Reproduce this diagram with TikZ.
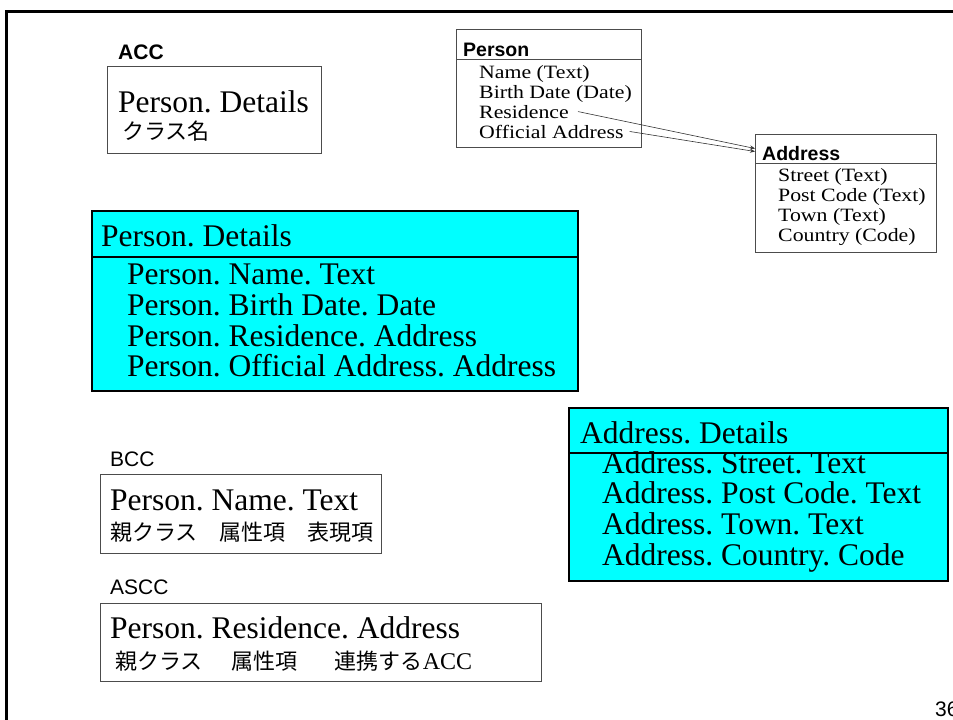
\documentclass[tikz,border=0pt]{standalone}
\usepackage{fontspec}
\setmainfont{Liberation Serif}
\setsansfont{Liberation Sans}
\newfontfamily\jpfont{Noto Sans CJK JP}
\newfontfamily\umlfont[FakeStretch=1.16]{Liberation Serif}
\usetikzlibrary{positioning, arrows.meta}
\definecolor{AquaFill}{RGB}{0,255,255}
\frenchspacing
\begin{document}
\begin{tikzpicture}[x=1pt, y=-1pt,
    PlainBox/.style={draw=black!70, line width=0.9pt, anchor=north west, inner sep=0pt},
    CyanBox/.style={draw=black, line width=1.8pt, fill=AquaFill, anchor=north west, inner sep=0pt},
    BigText/.style={anchor=base west, inner sep=0pt, font=\fontsize{31.5}{36}\selectfont},
    UmlText/.style={anchor=base west, inner sep=0pt, font=\umlfont\fontsize{18.8}{20}\selectfont},
    UmlHead/.style={anchor=base west, inner sep=0pt, font=\sffamily\bfseries\fontsize{19.5}{20}\selectfont},
    JpText/.style={anchor=base west, inner sep=0pt, font=\jpfont\fontsize{22}{24}\selectfont},
    LabelText/.style={anchor=base west, inner sep=0pt, font=\sffamily\fontsize{21}{24}\selectfont},
    LinkArrow/.style={draw=black!80, line width=0.6pt, -{Stealth[length=5pt, width=4pt]}},
  ]
\useasboundingbox (0,0) rectangle (953,720);
\draw[line width=3pt] (6.5,720) -- (6.5,11) -- (953,11);

% ACC
\node[LabelText, font=\sffamily\bfseries\fontsize{21}{24}\selectfont] (accLabel) at (118,59) {ACC};
\node[PlainBox, minimum width=214pt, minimum height=87pt] (accBox) at (107,66) {};
\node[BigText] (accName) at (118,112) {Person. Details};
\node[JpText] (accNote) at (122,139) {クラス名};

% Person class
\node[PlainBox, minimum width=185pt, minimum height=118pt] (person) at (456,29) {};
\draw[black!70, line width=0.9pt] ([yshift=-30pt]person.north west) -- ([yshift=-30pt]person.north east);
\node[UmlHead] (personHead) at (463,56) {Person};
\node[UmlText] (pName) at (479,78) {Name (Text)};
\node[UmlText] (pBirth) at (479,98) {Birth Date (Date)};
\node[UmlText] (pRes) at (479,118) {Residence};
\node[UmlText] (pOff) at (479,138) {Official Address};

% Address class
\node[PlainBox, minimum width=181pt, minimum height=118pt] (address) at (755,134) {};
\draw[black!70, line width=0.9pt] ([yshift=-29pt]address.north west) -- ([yshift=-29pt]address.north east);
\node[UmlHead] (addrHead) at (762,160) {Address};
\node[UmlText] (aStreet) at (778,181) {Street (Text)};
\node[UmlText] (aPost) at (778,201) {Post Code (Text)};
\node[UmlText] (aTown) at (778,221.5) {Town (Text)};
\node[UmlText] (aCountry) at (778,241.5) {Country (Code)};

\draw[LinkArrow] ([xshift=9pt]pRes.east) -- ([yshift=-14.5pt]address.north west);
\draw[LinkArrow] ([xshift=6pt]pOff.east) -- ([yshift=-17.5pt]address.north west);

% Person. Details
\node[CyanBox, minimum width=486pt, minimum height=180pt] (pDetails) at (91,210) {};
\draw[line width=1.8pt] ([yshift=-47pt]pDetails.north west) -- ([yshift=-47pt]pDetails.north east);
\node[BigText] (pdHead) at (101,246) {Person. Details};
\node[BigText] (pd1) at (127,284) {Person. Name. Text};
\node[BigText] (pd2) at (127,315) {Person. Birth Date. Date};
\node[BigText] (pd3) at (127,346) {Person. Residence. Address};
\node[BigText] (pd4) at (127,376) {Person. Official Address. Address};

% Address. Details
\node[CyanBox, minimum width=379pt, minimum height=173pt] (aDetails) at (568,407) {};
\draw[line width=1.8pt] ([yshift=-46pt]aDetails.north west) -- ([yshift=-46pt]aDetails.north east);
\node[BigText] (adHead) at (580,443) {Address. Details};
\node[BigText] (ad1) at (602,473.5) {Address. Street. Text};
\node[BigText] (ad2) at (602,503) {Address. Post Code. Text};
\node[BigText] (ad3) at (602,534) {Address. Town. Text};
\node[BigText] (ad4) at (602,565) {Address. Country. Code};

% BCC
\node[LabelText] (bccLabel) at (110,466) {BCC};
\node[PlainBox, minimum width=281pt, minimum height=79pt] (bccBox) at (100,474) {};
\node[BigText] (bccName) at (110,510) {Person. Name. Text};
\node[JpText] (bccNote) at (110,540) {親クラス　属性項　表現項};

% ASCC
\node[LabelText] (asccLabel) at (110,594) {ASCC};
\node[PlainBox, minimum width=441pt, minimum height=78pt] (asccBox) at (100,603) {};
\node[BigText] (asccName) at (110,638) {Person. Residence. Address};
\node[JpText] (asccNote) at (115,669) {親クラス\hspace{29pt}属性項\hspace{37pt}連携する{\rmfamily\fontsize{24}{24}\selectfont ACC}};

\node[LabelText] (pageNo) at (935,716) {36};
\end{tikzpicture}
\end{document}
